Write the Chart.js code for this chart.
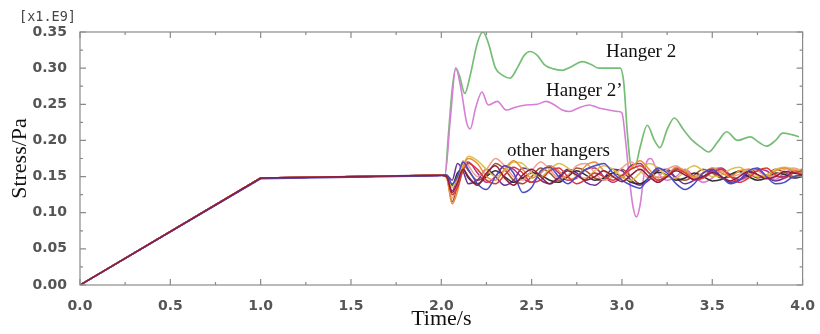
<!DOCTYPE html>
<html>
<head>
<meta charset="utf-8">
<script src="https://cdn.jsdelivr.net/npm/chart.js@4"></script>
<style>
  html, body { margin: 0; padding: 0; background: #fff; }
  #wrap { width: 820px; height: 334px; }
</style>
</head>
<body>
<div id="wrap"><canvas id="stressChart"></canvas></div>
<script>
// Axis settings
const xTicks = [0, 0.5, 1, 1.5, 2, 2.5, 3, 3.5, 4];
const yTicks = [0, 0.05, 0.1, 0.15, 0.2, 0.25, 0.3, 0.35];

// Hanger 2 (green) - stress in 1e9 Pa
const hanger2Time = [0, 1, 2, 2.02, 2.04, 2.06, 2.08, 2.1, 2.13, 2.16, 2.2, 2.23, 2.26, 2.3, 2.34, 2.38, 2.42, 2.46, 2.49, 2.53, 2.57, 2.62, 2.67, 2.72, 2.78, 2.83, 2.87, 2.93, 2.99, 3.01, 3.03, 3.05, 3.07, 3.1, 3.14, 3.18, 3.21, 3.25, 3.29, 3.34, 3.39, 3.44, 3.48, 3.53, 3.58, 3.64, 3.71, 3.76, 3.8, 3.85, 3.89, 3.94, 3.98];
const hanger2Stress = [0, 0.148, 0.152, 0.152, 0.21, 0.27, 0.30, 0.29, 0.265, 0.29, 0.335, 0.35, 0.335, 0.30, 0.29, 0.286, 0.30, 0.318, 0.323, 0.318, 0.305, 0.299, 0.297, 0.302, 0.309, 0.305, 0.300, 0.300, 0.300, 0.28, 0.21, 0.165, 0.162, 0.19, 0.221, 0.20, 0.19, 0.215, 0.231, 0.215, 0.20, 0.19, 0.184, 0.198, 0.212, 0.20, 0.205, 0.197, 0.192, 0.20, 0.210, 0.208, 0.205];

// Hanger 2' (pink)
const hanger2pTime = [0, 1, 2, 2.02, 2.05, 2.08, 2.11, 2.14, 2.16, 2.19, 2.225, 2.26, 2.31, 2.36, 2.41, 2.47, 2.53, 2.58, 2.62, 2.67, 2.71, 2.76, 2.82, 2.87, 2.93, 2.98, 3.0, 3.02, 3.04, 3.06, 3.08, 3.1, 3.13, 3.16, 3.2, 3.25, 3.3, 3.35, 3.4, 3.45, 3.5, 3.55, 3.6, 3.65, 3.7, 3.75, 3.8, 3.85, 3.9, 3.95, 4.0];
const hanger2pStress = [0, 0.148, 0.152, 0.152, 0.23, 0.30, 0.27, 0.225, 0.216, 0.245, 0.267, 0.249, 0.254, 0.242, 0.246, 0.249, 0.25, 0.254, 0.25, 0.242, 0.24, 0.245, 0.249, 0.245, 0.242, 0.24, 0.238, 0.20, 0.15, 0.11, 0.094, 0.11, 0.165, 0.175, 0.155, 0.145, 0.15, 0.16, 0.15, 0.142, 0.148, 0.158, 0.152, 0.145, 0.15, 0.158, 0.152, 0.146, 0.155, 0.16, 0.155];

// Other hangers share one time axis
const otherTime = [0, 1, 2, 2.03, 2.06, 2.09, 2.12, 2.15, 2.2, 2.25, 2.3, 2.35, 2.4, 2.45, 2.5, 2.55, 2.6, 2.65, 2.7, 2.75, 2.8, 2.85, 2.9, 2.95, 3.0, 3.05, 3.1, 3.15, 3.2, 3.25, 3.3, 3.35, 3.4, 3.45, 3.5, 3.55, 3.6, 3.65, 3.7, 3.75, 3.8, 3.85, 3.9, 3.95, 4.0];
const otherA = [0, 0.148, 0.152, 0.150, 0.128, 0.142, 0.160, 0.150, 0.138, 0.155, 0.165, 0.148, 0.138, 0.152, 0.160, 0.150, 0.140, 0.148, 0.158, 0.152, 0.145, 0.150, 0.158, 0.150, 0.143, 0.152, 0.160, 0.150, 0.142, 0.150, 0.158, 0.152, 0.146, 0.150, 0.156, 0.150, 0.144, 0.150, 0.157, 0.153, 0.147, 0.150, 0.157, 0.155, 0.152];
const otherB = [0, 0.147, 0.151, 0.152, 0.140, 0.150, 0.170, 0.160, 0.140, 0.132, 0.150, 0.165, 0.155, 0.128, 0.135, 0.158, 0.163, 0.150, 0.140, 0.150, 0.160, 0.165, 0.168, 0.155, 0.145, 0.138, 0.134, 0.150, 0.162, 0.155, 0.140, 0.132, 0.140, 0.155, 0.160, 0.150, 0.140, 0.145, 0.158, 0.162, 0.150, 0.140, 0.142, 0.150, 0.152];
const otherC = [0, 0.148, 0.152, 0.150, 0.125, 0.135, 0.158, 0.168, 0.160, 0.145, 0.140, 0.152, 0.163, 0.155, 0.142, 0.145, 0.158, 0.162, 0.150, 0.140, 0.146, 0.155, 0.150, 0.145, 0.152, 0.160, 0.165, 0.155, 0.145, 0.150, 0.160, 0.155, 0.145, 0.148, 0.156, 0.160, 0.150, 0.142, 0.148, 0.158, 0.162, 0.152, 0.148, 0.155, 0.158];
const otherD = [0, 0.148, 0.152, 0.148, 0.112, 0.130, 0.162, 0.175, 0.168, 0.150, 0.145, 0.160, 0.172, 0.160, 0.148, 0.155, 0.165, 0.158, 0.146, 0.150, 0.165, 0.170, 0.158, 0.150, 0.148, 0.162, 0.172, 0.160, 0.148, 0.152, 0.163, 0.158, 0.150, 0.155, 0.162, 0.155, 0.150, 0.158, 0.160, 0.152, 0.150, 0.158, 0.162, 0.158, 0.155];
const otherE = [0, 0.148, 0.152, 0.151, 0.135, 0.150, 0.165, 0.178, 0.172, 0.160, 0.150, 0.158, 0.170, 0.168, 0.155, 0.150, 0.160, 0.168, 0.162, 0.150, 0.148, 0.158, 0.165, 0.160, 0.150, 0.145, 0.155, 0.168, 0.162, 0.150, 0.148, 0.158, 0.165, 0.158, 0.150, 0.152, 0.160, 0.163, 0.155, 0.150, 0.152, 0.160, 0.163, 0.160, 0.158];
const otherF = [0, 0.148, 0.152, 0.150, 0.120, 0.145, 0.172, 0.165, 0.150, 0.160, 0.175, 0.165, 0.150, 0.145, 0.158, 0.170, 0.160, 0.148, 0.152, 0.165, 0.168, 0.155, 0.145, 0.150, 0.162, 0.170, 0.158, 0.148, 0.150, 0.160, 0.165, 0.155, 0.148, 0.155, 0.162, 0.158, 0.150, 0.153, 0.160, 0.158, 0.150, 0.152, 0.160, 0.162, 0.158];
const otherG = [0, 0.148, 0.152, 0.152, 0.138, 0.155, 0.160, 0.148, 0.140, 0.150, 0.158, 0.150, 0.142, 0.148, 0.155, 0.152, 0.145, 0.142, 0.150, 0.158, 0.152, 0.145, 0.148, 0.155, 0.150, 0.142, 0.140, 0.148, 0.156, 0.152, 0.145, 0.148, 0.155, 0.150, 0.144, 0.146, 0.153, 0.157, 0.150, 0.145, 0.148, 0.155, 0.153, 0.148, 0.150];
const otherH = [0, 0.148, 0.152, 0.152, 0.145, 0.168, 0.158, 0.140, 0.145, 0.160, 0.150, 0.138, 0.145, 0.162, 0.158, 0.145, 0.140, 0.150, 0.160, 0.155, 0.142, 0.138, 0.148, 0.160, 0.158, 0.145, 0.138, 0.145, 0.158, 0.160, 0.148, 0.140, 0.145, 0.155, 0.158, 0.150, 0.142, 0.145, 0.155, 0.158, 0.150, 0.144, 0.148, 0.156, 0.154];
const otherI = [0, 0.148, 0.152, 0.149, 0.115, 0.140, 0.168, 0.158, 0.145, 0.152, 0.168, 0.160, 0.145, 0.140, 0.150, 0.162, 0.155, 0.145, 0.150, 0.162, 0.158, 0.148, 0.145, 0.155, 0.160, 0.150, 0.140, 0.148, 0.160, 0.158, 0.148, 0.145, 0.152, 0.160, 0.155, 0.148, 0.150, 0.158, 0.155, 0.148, 0.152, 0.160, 0.156, 0.150, 0.153];
const otherJ = [0, 0.148, 0.152, 0.150, 0.130, 0.150, 0.165, 0.170, 0.155, 0.142, 0.150, 0.165, 0.160, 0.148, 0.142, 0.155, 0.165, 0.155, 0.145, 0.148, 0.160, 0.162, 0.150, 0.142, 0.150, 0.165, 0.168, 0.155, 0.145, 0.152, 0.162, 0.158, 0.148, 0.150, 0.160, 0.162, 0.152, 0.146, 0.152, 0.160, 0.158, 0.150, 0.150, 0.158, 0.160];

const otherSeries = [otherA, otherB, otherC, otherD, otherE, otherF, otherG, otherH, otherI, otherJ];
const otherColors = ['#8b1e3f', '#4b4bc8', '#d83a3a', '#e8903a', '#d9c24a', '#f0a090', '#303030', '#6a2f9a', '#a0522d', '#b0307a'];

// Annotation labels
const labelTexts = ['Hanger 2', 'Hanger 2\u2019', 'other hangers'];

// The first three samples (t = 0, 1, 2) form the straight loading ramp,
// the rest is the smooth dynamic response after t = 2 s
const rampEnd = 3;

function toPoints(times, values, from, to) {
    const pts = [];
    for (let i = from; i < to; i++) {
        pts.push({ x: times[i], y: values[i] });
    }
    return pts;
}

function makeDatasets(label, times, values, color, width) {
    const ramp = {
        label: label + ' ramp',
        data: toPoints(times, values, 0, rampEnd),
        borderColor: color,
        borderWidth: width,
        pointRadius: 0,
        tension: 0,
        fill: false
    };
    const dynamic = {
        label: label,
        data: toPoints(times, values, rampEnd - 1, times.length),
        borderColor: color,
        borderWidth: width,
        pointRadius: 0,
        cubicInterpolationMode: 'monotone',
        fill: false
    };
    return [ramp, dynamic];
}

let datasets = [];
otherSeries.forEach((vals, i) => {
    datasets = datasets.concat(makeDatasets('other ' + (i + 1), otherTime, vals, otherColors[i], 1.5));
});
datasets = datasets.concat(makeDatasets(labelTexts[1], hanger2pTime, hanger2pStress, '#d77fd4', 1.6));
datasets = datasets.concat(makeDatasets(labelTexts[0], hanger2Time, hanger2Stress, '#76bd76', 1.7));

// Frame with inward ticks on all four sides, plus the text labels
const framePlugin = {
    id: 'frame',
    afterDatasetsDraw(chart) {
        const ctx = chart.ctx;
        const area = chart.chartArea;
        const xs = chart.scales.x;
        const ys = chart.scales.y;
        ctx.save();
        ctx.strokeStyle = '#8a8a8a';
        ctx.lineWidth = 1.2;
        ctx.strokeRect(area.left, area.top, area.right - area.left, area.bottom - area.top);

        ctx.beginPath();
        for (let i = 0; i <= 16; i++) {
            const px = xs.getPixelForValue(i * 0.25);
            const len = (i % 2 === 0) ? 6 : 3;
            ctx.moveTo(px, area.bottom); ctx.lineTo(px, area.bottom - len);
            ctx.moveTo(px, area.top); ctx.lineTo(px, area.top + len);
        }
        for (let i = 0; i <= 14; i++) {
            const py = ys.getPixelForValue(i * 0.025);
            const len = (i % 2 === 0) ? 6 : 3;
            ctx.moveTo(area.left, py); ctx.lineTo(area.left + len, py);
            ctx.moveTo(area.right, py); ctx.lineTo(area.right - len, py);
        }
        ctx.stroke();

        // exponent label
        ctx.fillStyle = '#444';
        ctx.font = '13.5px "DejaVu Sans Mono"';
        ctx.textAlign = 'left';
        ctx.textBaseline = 'alphabetic';
        ctx.fillText('[x1.E9]', 19, 21);

        // curve annotations
        ctx.fillStyle = '#111';
        ctx.font = '19px "Liberation Serif"';
        ctx.fillText(labelTexts[0], 606, 57);
        ctx.fillText(labelTexts[1], 546, 96);
        ctx.fillText(labelTexts[2], 507, 156);
        ctx.restore();
    }
};

const ctx = document.getElementById('stressChart').getContext('2d');
new Chart(ctx, {
    type: 'line',
    data: { datasets: datasets },
    options: {
        responsive: true,
        maintainAspectRatio: false,
        animation: false,
        layout: { padding: { top: 32, right: 12, left: 0, bottom: 0 } },
        plugins: {
            legend: { display: false },
            tooltip: { enabled: false }
        },
        scales: {
            x: {
                type: 'linear',
                min: 0,
                max: 4,
                afterFit: (scale) => { scale.height = 49; },
                afterBuildTicks: (scale) => { scale.ticks = xTicks.map(v => ({ value: v })); },
                grid: { display: false },
                border: { display: false },
                ticks: {
                    padding: 5,
                    color: '#555',
                    font: { family: 'DejaVu Sans', weight: 'bold', size: 14 },
                    callback: (v) => v.toFixed(1)
                },
                title: {
                    display: true,
                    text: 'Time/s',
                    color: '#111',
                    padding: { top: 0, bottom: 2 },
                    font: { family: 'Liberation Serif', size: 22 }
                }
            },
            y: {
                type: 'linear',
                min: 0,
                max: 0.35,
                afterFit: (scale) => { scale.width = 80; },
                afterBuildTicks: (scale) => { scale.ticks = yTicks.map(v => ({ value: v })); },
                grid: { display: false },
                border: { display: false },
                ticks: {
                    padding: 5,
                    color: '#555',
                    font: { family: 'DejaVu Sans', weight: 'bold', size: 14 },
                    callback: (v) => v.toFixed(2)
                },
                title: {
                    display: true,
                    text: 'Stress/Pa',
                    color: '#111',
                    padding: { top: 7, bottom: 0 },
                    font: { family: 'Liberation Serif', size: 22 }
                }
            }
        }
    },
    plugins: [framePlugin]
});
</script>
</body>
</html>
